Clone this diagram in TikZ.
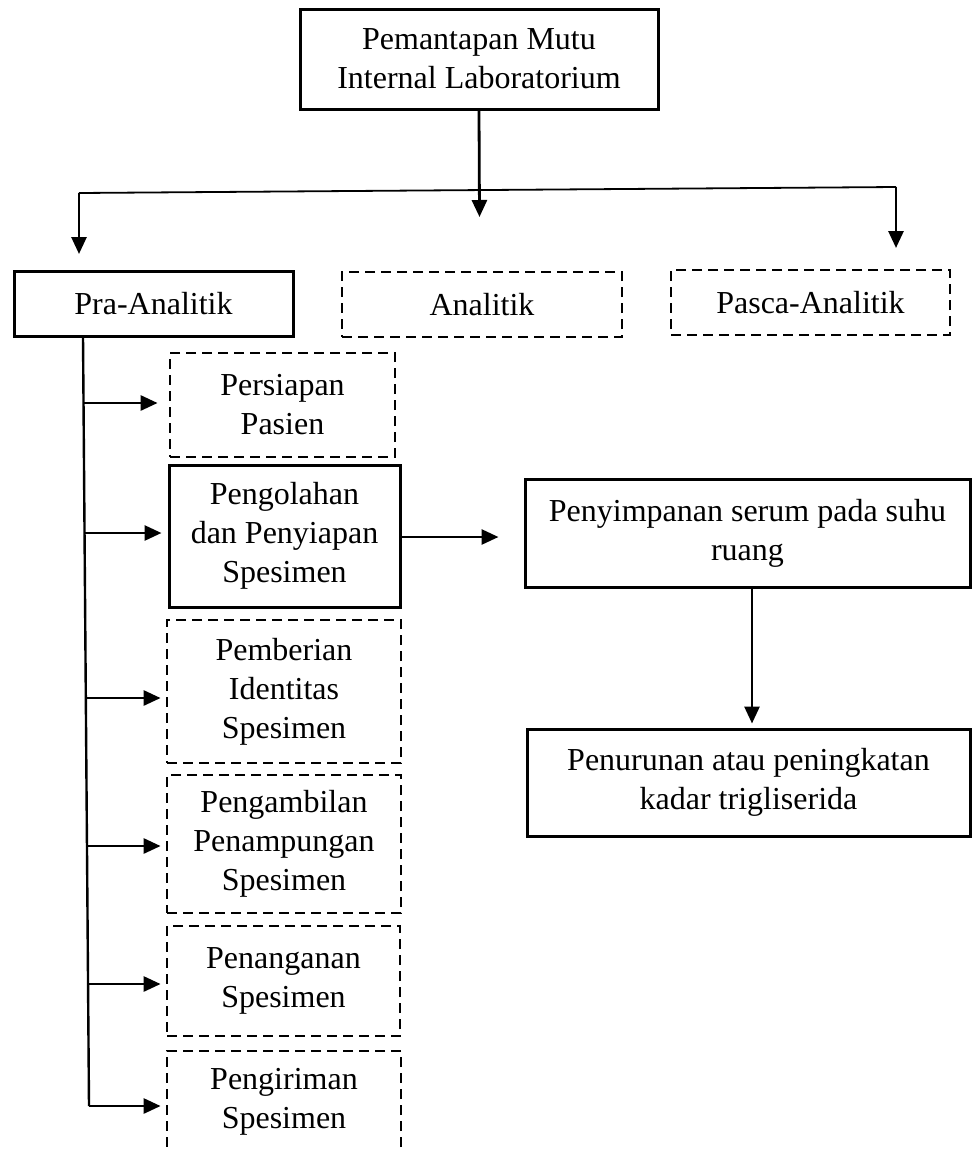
\documentclass[tikz,border=0pt]{standalone}
\usepackage{fontspec}
\setmainfont{Liberation Serif}
\usetikzlibrary{arrows.meta}
\begin{document}
\begin{tikzpicture}[x=1pt,y=-1pt,
  box/.style={draw, line width=3pt, align=center, inner sep=0pt,
    font=\fontsize{32}{39}\selectfont},
  dbox/.style={box, line width=2.8pt, dash pattern=on 10pt off 6pt},
  arr/.style={line width=2.8pt, -{Triangle[length=17pt,width=15pt]}},
  thinln/.style={line width=1.8pt},
  trunkln/.style={line width=2.4pt}]
\useasboundingbox (0,0) rectangle (972,1152);
\fill[white] (0,0) rectangle (972,1152);

% nodes
\node[box, minimum width=358pt, minimum height=100pt] (top) at (479,59) {Pemantapan Mutu\\Internal Laboratorium};
\node[box, minimum width=279pt, minimum height=65pt] (pra) at (153.5,303.5) {Pra-Analitik};
\node[dbox, minimum width=280pt, minimum height=65pt] (ana) at (482,304.5) {Analitik};
\node[dbox, minimum width=279pt, minimum height=65pt] (pasca) at (810.5,302.5) {Pasca-Analitik};
\node[dbox, minimum width=225pt, minimum height=104pt] (pers) at (282.5,405) {Persiapan\\Pasien};
\node[box, minimum width=231pt, minimum height=142pt] (peng) at (284.5,536) {Pengolahan\\dan Penyiapan\\Spesimen};
\node[dbox, minimum width=234pt, minimum height=143pt] (pemb) at (284,691.5) {Pemberian\\Identitas\\Spesimen};
\node[dbox, minimum width=234pt, minimum height=138pt] (pengam) at (284,844) {Pengambilan\\Penampungan\\Spesimen};
\node[dbox, minimum width=233pt, minimum height=110pt] (penang) at (283.5,981) {Penanganan\\Spesimen};
\node[dbox, minimum width=234pt, minimum height=102pt] (pengir) at (284,1102) {Pengiriman\\Spesimen};
\node[box, minimum width=445pt, minimum height=108pt] (penyim) at (747.5,533) {Penyimpanan serum pada suhu\\ruang};
\node[box, minimum width=443pt, minimum height=107pt] (penur) at (748.5,782.5) {Penurunan atau peningkatan\\kadar trigliserida};

% top distribution
\coordinate (mtip) at (479.5,217);
\coordinate (hl) at (79,193);
\coordinate (hr) at (896,187);
\coordinate (ltip) at (79,254);
\coordinate (rtip) at (896,248);
\draw[arr] (top.south) -- (mtip);
\draw[thinln] (hl) -- (hr);
\draw[arr] (hl) -- (ltip);
\draw[arr] (hr) -- (rtip);

% trunk under Pra-Analitik
\coordinate (t0) at (83,336);
\coordinate (b1) at (83.5,403);
\coordinate (b2) at (84.5,533);
\coordinate (b3) at (85.8,698);
\coordinate (b4) at (87,846);
\coordinate (b5) at (88,984);
\coordinate (b6) at (89,1106);
\draw[trunkln] (t0) -- (b6);
\draw[arr, shorten >=11pt] (b1) -- (b1 -| pers.west);
\draw[arr, shorten >=6pt] (b2) -- (b2 -| peng.west);
\draw[arr, shorten >=5pt] (b3) -- (b3 -| pemb.west);
\draw[arr, shorten >=5pt] (b4) -- (b4 -| pengam.west);
\draw[arr, shorten >=5pt] (b5) -- (b5 -| penang.west);
\draw[arr, shorten >=5pt] (b6) -- (b6 -| pengir.west);

% right chain
\draw[arr, shorten >=25pt] ([yshift=-1pt]peng.east) -- ([yshift=-1pt]peng.east -| penyim.west);
\draw[arr, shorten >=4pt] ([xshift=4.5pt]penyim.south) -- ([xshift=4.5pt]penyim.south |- penur.north);
\end{tikzpicture}
\end{document}
